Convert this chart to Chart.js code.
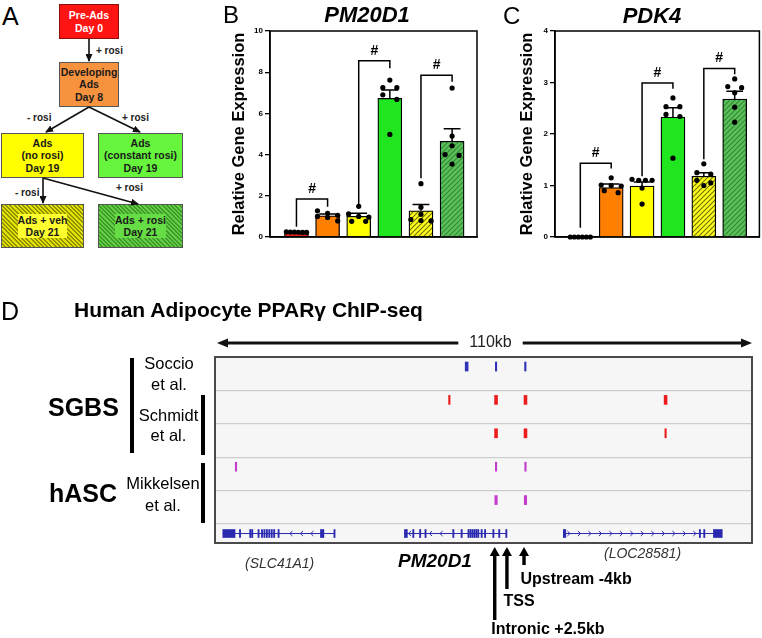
<!DOCTYPE html>
<html><head><meta charset="utf-8">
<script src="https://cdn.jsdelivr.net/npm/chart.js@4"></script>
<style>
html,body{margin:0;padding:0;background:#fff;}
body{width:762px;height:638px;position:relative;overflow:hidden;font-family:'Liberation Sans',Arial,Helvetica,sans-serif;color:#000;}
.t{position:absolute;white-space:nowrap;line-height:1;transform:translateY(-50%);}
.c{transform:translate(-50%,-50%);text-align:center;}
.box{position:absolute;box-sizing:border-box;border:1px solid #555;display:flex;align-items:center;justify-content:center;text-align:center;font-weight:bold;font-size:10.5px;line-height:12.3px;color:#1a1a1a;}
.lbl{font-weight:bold;font-size:10px;color:#222;}
canvas{position:absolute;}
.vbar{position:absolute;background:#000;width:4px;}
</style></head><body>

<!-- Panel A: flow chart -->
<div class="t" style="left:2px;top:16px;font-size:25px">A</div>
<div class="box" style="left:59px;top:4px;width:60px;height:35px;background:#ff1414;color:#fff;border-color:#8a1010">Pre-Ads<br>Day 0</div>
<div class="box" style="left:59px;top:62px;width:60px;height:45px;background:#f7923f">Developing<br>Ads<br>Day 8</div>
<div class="box" style="left:1px;top:133px;width:83px;height:45px;background:#ffff00">Ads<br>(no rosi)<br>Day 19</div>
<div class="box" style="left:98px;top:133px;width:85px;height:45px;background:#66f53c">Ads<br>(constant rosi)<br>Day 19</div>
<div class="box" style="left:1px;top:204px;width:83px;height:44px;background:repeating-linear-gradient(45deg,#e2e200 0px,#e2e200 1.6px,#8f8f00 1.6px,#8f8f00 3px)"><span style="background:#ffff30">Ads + veh<br>Day 21</span></div>
<div class="box" style="left:98px;top:204px;width:85px;height:44px;background:repeating-linear-gradient(45deg,#66cc44 0px,#66cc44 1.6px,#3a9a2a 1.6px,#3a9a2a 3px)"><span style="background:#66dd44">Ads + rosi<br>Day 21</span></div>
<svg style="position:absolute;left:0;top:0" width="200" height="260">
<defs><marker id="ah" markerWidth="8" markerHeight="7" refX="7" refY="3.5" orient="auto" markerUnits="userSpaceOnUse"><path d="M0,0 L8,3.5 L0,7 z" fill="#111"/></marker></defs>
<g stroke="#111" stroke-width="1.6" marker-end="url(#ah)">
<line x1="89" y1="39" x2="89" y2="61"/>
<line x1="89" y1="107" x2="46" y2="132"/>
<line x1="89" y1="107" x2="140" y2="132"/>
<line x1="43" y1="178" x2="43" y2="203"/>
<line x1="43" y1="178" x2="138" y2="204"/>
</g></svg>
<div class="t lbl" style="left:96px;top:51px">+ rosi</div>
<div class="t lbl" style="left:27px;top:118px">- rosi</div>
<div class="t lbl" style="left:122px;top:118px">+ rosi</div>
<div class="t lbl" style="left:15px;top:193px">- rosi</div>
<div class="t lbl" style="left:116px;top:188px">+ rosi</div>

<!-- Panels B, C, D charts -->
<canvas id="chartB" width="285" height="250" style="left:200px;top:0;width:285px;height:250px"></canvas>
<canvas id="chartC" width="282" height="250" style="left:480px;top:0;width:282px;height:250px"></canvas>
<canvas id="chartD" width="762" height="358" style="left:0;top:280px;width:762px;height:358px"></canvas>

<div class="t" style="left:223px;top:15px;font-size:24px">B</div>
<div class="t c" style="left:367px;top:15px;font-size:22px;font-weight:bold;font-style:italic">PM20D1</div>
<div class="t" style="left:503px;top:16px;font-size:24px">C</div>
<div class="t c" style="left:652px;top:16px;font-size:22px;font-weight:bold;font-style:italic">PDK4</div>

<div class="t" style="left:1px;top:311px;font-size:25px">D</div>
<div class="t" style="left:74px;top:309px;font-size:21px;font-weight:bold">Human Adipocyte PPARγ ChIP-seq</div>
<div class="t" style="left:48px;top:407px;font-size:25px;font-weight:bold">SGBS</div>
<div class="t" style="left:49px;top:493px;font-size:25px;font-weight:bold">hASC</div>
<div class="vbar" style="left:130px;top:358px;height:95px"></div>
<div class="vbar" style="left:201px;top:395px;height:60px"></div>
<div class="vbar" style="left:201px;top:463px;height:60px"></div>
<div class="t c" style="left:169px;top:373.5px;font-size:16.5px;line-height:21px">Soccio<br>et al.</div>
<div class="t c" style="left:168.5px;top:425px;font-size:16.5px;line-height:20px">Schmidt<br>et al.</div>
<div class="t c" style="left:163px;top:494px;font-size:16.5px;line-height:22px">Mikkelsen<br>et al.</div>
<div class="t" style="left:245px;top:563px;font-size:14px;font-style:italic;color:#333">(SLC41A1)</div>
<div class="t" style="left:398px;top:560px;font-size:19px;font-weight:bold;font-style:italic">PM20D1</div>
<div class="t" style="left:604px;top:553px;font-size:14px;font-style:italic;color:#333">(LOC28581)</div>

<script>
const FONT = "'Liberation Sans', Arial, Helvetica, sans-serif";
Chart.defaults.font.family = FONT;
Chart.defaults.color = '#000';
Chart.defaults.animation = false;

// ---------- Panels B and C data ----------
const groups = ['Pre-Ads Day 0', 'Developing Ads Day 8', 'Ads (no rosi) Day 19', 'Ads (constant rosi) Day 19', 'Ads + veh Day 21', 'Ads + rosi Day 21'];
const groupX = [1, 2, 3, 4, 5, 6];

const pm20d1Mean = [0.23, 1.03, 1.0, 6.73, 1.27, 4.65];
const pm20d1Sem = [0.02, 0.09, 0.15, 0.4, 0.31, 0.6];
const pm20d1Points = [
  [0.22, 0.24, 0.25, 0.23, 0.22, 0.24],
  [1.05, 1.15, 1.27, 1.0, 0.95, 0.78],
  [1.49, 1.12, 1.0, 0.96, 0.76, 0.76],
  [7.62, 7.25, 7.25, 6.9, 6.68, 4.98],
  [2.59, 1.45, 1.1, 0.85, 0.8, 0.78],
  [7.23, 4.9, 4.43, 4.0, 3.96, 3.54]
];
// [from group, to group, bracket top, left leg end, right leg end]
const pm20d1Brackets = [[1, 2, 1.84, 0.5, 1.47], [3, 4, 8.56, 1.6, 8.19], [5, 6, 7.85, 2.85, 7.54]];
const pm20d1Ticks = [0, 2, 4, 6, 8, 10];

const pdk4Mean = [0, 0.96, 0.99, 2.33, 1.18, 2.68];
const pdk4Sem = [0, 0.07, 0.08, 0.18, 0.07, 0.15];
const pdk4Points = [
  [0, 0, 0, 0, 0, 0],
  [1.15, 1.01, 1.0, 0.99, 0.9, 0.86],
  [1.12, 1.1, 1.1, 1.1, 0.95, 0.64],
  [2.7, 2.53, 2.53, 2.38, 2.34, 1.53],
  [1.42, 1.25, 1.22, 1.1, 1.05, 1.0],
  [3.07, 2.92, 2.9, 2.8, 2.52, 2.23]
];
const pdk4Brackets = [[1, 2, 1.43, 0.18, 1.33], [3, 4, 2.99, 1.18, 2.88], [5, 6, 3.27, 1.51, 3.16]];
const pdk4Ticks = [0, 1, 2, 3, 4];

// ---------- Panel D data (positions in kb along the 110 kb window) ----------
const windowKb = [0, 110];
const trackNames = ['Soccio et al.', 'Schmidt et al. rep1', 'Schmidt et al. rep2', 'Mikkelsen et al. rep1', 'Mikkelsen et al. rep2'];
const soccioPeaks = [[51.25, 51.85], [57.42, 57.72], [63.42, 63.72]];
const schmidtPeaks1 = [[47.85, 48.15], [57.27, 57.87], [63.3, 63.9], [92.0, 92.6]];
const schmidtPeaks2 = [[57.27, 57.87], [63.3, 63.9], [92.15, 92.45]];
const mikkelsenPeaks1 = [[4.15, 4.45], [57.42, 57.72], [63.45, 63.75]];
const mikkelsenPeaks2 = [[57.32, 57.82], [63.35, 63.85]];
const peakColors = ['#3030b8', '#ec1c1c', '#ec1c1c', '#c43ccc', '#c43ccc'];

const geneNames = ['SLC41A1', 'PM20D1', 'LOC28581'];
const geneSpans = [[1.6, 24.6], [38.8, 59.8], [71.35, 103.9]];
const geneStrands = ['-', '-', '+'];
const slc41a1Exons = [[1.6, 4.1], [5.0, 5.25], [7.1, 7.35], [7.5, 7.75], [8.8, 9.05], [9.5, 9.75], [10.0, 10.25], [10.5, 10.75], [11.0, 11.25], [11.5, 11.75], [12.0, 12.25], [12.9, 13.15], [21.6, 22.3], [24.35, 24.6]];
const pm20d1Exons = [[38.8, 39.4], [40.5, 40.75], [41.9, 42.15], [43.0, 43.25], [48.7, 48.95], [50.4, 50.65], [51.8, 52.05], [52.2, 52.45], [52.6, 52.85], [53.0, 53.25], [53.4, 53.65], [53.8, 54.05], [54.5, 54.75], [55.2, 55.45], [56.9, 57.15], [58.1, 58.35], [59.55, 59.8]];
const loc28581Exons = [[71.35, 71.85], [99.2, 99.45], [100.1, 100.35], [102.1, 103.9]];

const arrowSites = [57.3, 59.8, 63.3];
const arrowLabels = ['Intronic +2.5kb', 'TSS', 'Upstream -4kb'];

// ---------- helpers ----------
function spreadOffsets(vals, tol) {
  const idx = vals.map((v, i) => i).sort((a, b) => vals[b] - vals[a]);
  const off = new Array(vals.length).fill(0);
  let k = 0;
  while (k < idx.length) {
    let j = k;
    while (j + 1 < idx.length && vals[idx[k]] - vals[idx[j + 1]] < tol) j++;
    const n = j - k + 1;
    const step = n > 1 ? Math.min(0.45, 0.65 / (n - 1)) : 0;
    for (let m = 0; m < n; m++) off[idx[k + m]] = (m - (n - 1) / 2) * step;
    k = j + 1;
  }
  return off;
}
function hatch(ctx, bg, fg) {
  const c = document.createElement('canvas');
  c.width = 5; c.height = 5;
  const x = c.getContext('2d');
  x.fillStyle = bg; x.fillRect(0, 0, 5, 5);
  x.strokeStyle = fg; x.lineWidth = 1.1;
  x.beginPath();
  x.moveTo(-1, 6); x.lineTo(6, -1);
  x.moveTo(-1, 1); x.lineTo(1, -1);
  x.moveTo(4, 6); x.lineTo(6, 4);
  x.stroke();
  return ctx.createPattern(c, 'repeat');
}
const framePlugin = {
  id: 'frame',
  afterDraw(chart, args, opts) {
    const {ctx, chartArea: a} = chart;
    ctx.save();
    ctx.strokeStyle = opts.color || '#000';
    ctx.lineWidth = opts.width || 1.5;
    ctx.strokeRect(a.left, a.top, a.right - a.left, a.bottom - a.top);
    ctx.restore();
  }
};
const hashPlugin = {
  id: 'hashLabels',
  afterDatasetsDraw(chart, args, opts) {
    if (!opts.brackets) return;
    const {ctx, scales: {x, y}} = chart;
    ctx.save();
    ctx.fillStyle = '#000';
    ctx.font = 'bold 14px ' + FONT;
    ctx.textAlign = 'center';
    ctx.textBaseline = 'middle';
    opts.brackets.forEach(b => ctx.fillText('#', x.getPixelForValue((b[0] + b[1]) / 2), y.getPixelForValue(b[2]) - 10));
    ctx.restore();
  }
};

function barChart(id, means, sems, points, brackets, ticks, tol, xmin, pad, yWidth) {
  const canvas = document.getElementById(id);
  const ctx = canvas.getContext('2d');
  const colors = ['#e3241c', '#ff8000', '#ffff00', '#1fe61f', hatch(ctx, '#ffff20', '#6e6e00'), hatch(ctx, '#5cbf5c', '#2f8a2f')];
  const capHalf = 0.27;
  const pts = [];
  points.forEach((vals, i) => {
    const off = spreadOffsets(vals, tol);
    vals.forEach((v, k) => pts.push({x: groupX[i] + off[k], y: v}));
  });
  const err = [];
  means.forEach((m, i) => {
    const x = groupX[i], t = m + sems[i];
    err.push({x, y: m}, {x, y: t}, {x, y: null}, {x: x - capHalf, y: t}, {x: x + capHalf, y: t}, {x, y: null});
  });
  const br = [];
  brackets.forEach(b => {
    br.push({x: b[0], y: b[3]}, {x: b[0], y: b[2]}, {x: b[1], y: b[2]}, {x: b[1], y: b[4]}, {x: b[1], y: null});
  });
  return new Chart(ctx, {
    type: 'bar',
    data: {
      datasets: [
        {type: 'scatter', data: pts, pointRadius: 2.6, pointHoverRadius: 2.6, backgroundColor: '#000', borderWidth: 0, clip: false, order: 0},
        {type: 'line', data: err, borderColor: '#000', borderWidth: 1.5, pointRadius: 0, spanGaps: false, clip: false, order: 1},
        {type: 'line', data: br, borderColor: '#000', borderWidth: 1.5, pointRadius: 0, spanGaps: false, clip: false, order: 1},
        {type: 'bar', label: 'mean', data: means.map((m, i) => ({x: groupX[i], y: m})), backgroundColor: colors, borderColor: '#000', borderWidth: 1.3, barThickness: 24, grouped: false, order: 2}
      ]
    },
    options: {
      responsive: false,
      animation: false,
      layout: {padding: pad},
      plugins: {legend: {display: false}, tooltip: {enabled: false}, frame: {color: '#000', width: 1.5}, hashLabels: {brackets}},
      scales: {
        x: {type: 'linear', min: xmin, max: 6.8, offset: false, ticks: {display: false}, grid: {display: false},
            border: {color: '#000', width: 1.5}, afterFit: s => { s.height = 0; }},
        y: {type: 'linear', min: 0, max: ticks[ticks.length - 1],
            afterBuildTicks: s => { s.ticks = ticks.map(v => ({value: v})); },
            ticks: {color: '#000', font: {size: 8, weight: 'bold'}, padding: 2},
            grid: {drawOnChartArea: false, color: '#000', lineWidth: 1.3, tickLength: 5},
            border: {color: '#000', width: 1.5},
            title: {display: true, text: 'Relative Gene Expression', color: '#000', font: {size: 16.5, weight: 'bold'}, padding: {top: 0, bottom: 0}},
            afterFit: s => { s.width = yWidth; }}
      }
    },
    plugins: [framePlugin, hashPlugin]
  });
}

barChart('chartB', pm20d1Mean, pm20d1Sem, pm20d1Points, pm20d1Brackets, pm20d1Ticks, 0.25, 0.15, {left: 30, right: 8, top: 31, bottom: 13}, 40);
barChart('chartC', pdk4Mean, pdk4Sem, pdk4Points, pdk4Brackets, pdk4Ticks, 0.1, 0.18, {left: 38, right: 2, top: 31, bottom: 13}, 37);

// ---------- Panel D ----------
const peakSets = [soccioPeaks, schmidtPeaks1, schmidtPeaks2, mikkelsenPeaks1, mikkelsenPeaks2];
const geneExonSets = [slc41a1Exons, pm20d1Exons, loc28581Exons];
const rowOffset = 0.285;   // peaks sit in the upper part of each row
const geneRow = 5.286;
const geneColor = '#2a2ab0';

const igvPlugin = {
  id: 'igv',
  beforeDraw(chart) {
    const {ctx, chartArea: a} = chart;
    ctx.save(); ctx.fillStyle = '#f6f6f6';
    ctx.fillRect(a.left, a.top, a.right - a.left, a.bottom - a.top);
    ctx.restore();
  },
  afterDatasetsDraw(chart) {
    const {ctx, scales: {x, y}} = chart;
    const yg = y.getPixelForValue(geneRow);
    ctx.save();
    ctx.strokeStyle = geneColor; ctx.lineWidth = 1;
    geneSpans.forEach((g, gi) => {
      const dir = geneStrands[gi] === '+' ? 1 : -1;
      for (let k = g[0] + 1.1; k < g[1] - 0.5; k += 2.15) {
        if (geneExonSets[gi].some(e => k > e[0] - 0.45 && k < e[1] + 0.45)) continue;
        const px = x.getPixelForValue(k);
        ctx.beginPath();
        ctx.moveTo(px - 1.3 * dir, yg - 2.5);
        ctx.lineTo(px + 1.3 * dir, yg);
        ctx.lineTo(px - 1.3 * dir, yg + 2.5);
        ctx.stroke();
      }
    });
    ctx.restore();
  },
  afterDraw(chart) {
    const {ctx, chartArea: a, scales: {x}} = chart;
    ctx.save();
    // frame
    ctx.strokeStyle = '#4a4a4a'; ctx.lineWidth = 2;
    ctx.strokeRect(a.left, a.top, a.right - a.left, a.bottom - a.top);
    // 110 kb scale arrow
    const ys = a.top - 14;
    const xl = x.getPixelForValue(windowKb[0]) + 2, xr = x.getPixelForValue(windowKb[1]);
    const label = (windowKb[1] - windowKb[0]) + 'kb';
    ctx.font = '16px ' + FONT;
    const tw = ctx.measureText(label).width;
    const xc = (xl + xr) / 2 + 6;
    ctx.strokeStyle = '#111'; ctx.fillStyle = '#111'; ctx.lineWidth = 3;
    ctx.beginPath();
    ctx.moveTo(xl + 6, ys); ctx.lineTo(xc - tw / 2 - 11, ys);
    ctx.moveTo(xc + tw / 2 + 11, ys); ctx.lineTo(xr - 6, ys);
    ctx.stroke();
    ctx.beginPath(); ctx.moveTo(xl, ys); ctx.lineTo(xl + 11, ys - 4.5); ctx.lineTo(xl + 11, ys + 4.5); ctx.closePath(); ctx.fill();
    ctx.beginPath(); ctx.moveTo(xr, ys); ctx.lineTo(xr - 11, ys - 4.5); ctx.lineTo(xr - 11, ys + 4.5); ctx.closePath(); ctx.fill();
    ctx.fillStyle = '#222'; ctx.textAlign = 'center'; ctx.textBaseline = 'middle';
    ctx.fillText(label, xc, ys);
    // site arrows below the track
    const shaftEnds = [77, 46, 22];
    const labelY = [87, 58.5, 37];
    ctx.fillStyle = '#000'; ctx.strokeStyle = '#000';
    ctx.font = 'bold 16px ' + FONT; ctx.textAlign = 'left';
    arrowSites.forEach((kb, i) => {
      const px = x.getPixelForValue(kb);
      const tip = a.bottom + 4;
      ctx.beginPath(); ctx.moveTo(px, tip); ctx.lineTo(px - 5, tip + 9); ctx.lineTo(px + 5, tip + 9); ctx.closePath(); ctx.fill();
      ctx.fillRect(px - 1.7, tip + 8, 3.4, a.bottom + shaftEnds[i] - tip - 8);
      ctx.fillText(arrowLabels[i], px - 3.5, a.bottom + labelY[i]);
    });
    ctx.restore();
  }
};

const dDatasets = [];
peakSets.forEach((set, r) => {
  dDatasets.push({type: 'bar', label: trackNames[r], data: set.map(p => ({x: p, y: r + rowOffset})),
    backgroundColor: peakColors[r], borderWidth: 0, barThickness: 9, grouped: false});
});
geneSpans.forEach((g, gi) => {
  dDatasets.push({type: 'line', label: geneNames[gi] + ' introns', data: [{x: g[0], y: geneRow}, {x: g[1], y: geneRow}],
    borderColor: geneColor, borderWidth: 1, pointRadius: 0, indexAxis: 'x'});
  dDatasets.push({type: 'bar', label: geneNames[gi] + ' exons', data: geneExonSets[gi].map(e => ({x: e, y: geneRow})),
    backgroundColor: geneColor, borderWidth: 0, barThickness: 8, grouped: false});
});

new Chart(document.getElementById('chartD').getContext('2d'), {
  type: 'bar',
  data: {datasets: dDatasets},
  options: {
    responsive: false,
    animation: false,
    indexAxis: 'y',
    layout: {padding: {left: 215, right: 10, top: 77, bottom: 95}},
    plugins: {legend: {display: false}, tooltip: {enabled: false}},
    scales: {
      x: {type: 'linear', min: windowKb[0], max: windowKb[1], display: false, offset: false},
      y: {type: 'linear', min: 0, max: 5.57, reverse: true, offset: false,
          afterBuildTicks: s => { s.ticks = [1, 2, 3, 4, 5].map(v => ({value: v})); },
          ticks: {display: false}, grid: {color: '#cdcdcd', lineWidth: 1.3, drawTicks: false, offset: false},
          border: {display: false}, afterFit: s => { s.width = 0; }}
    }
  },
  plugins: [igvPlugin]
});
</script>
</body></html>
